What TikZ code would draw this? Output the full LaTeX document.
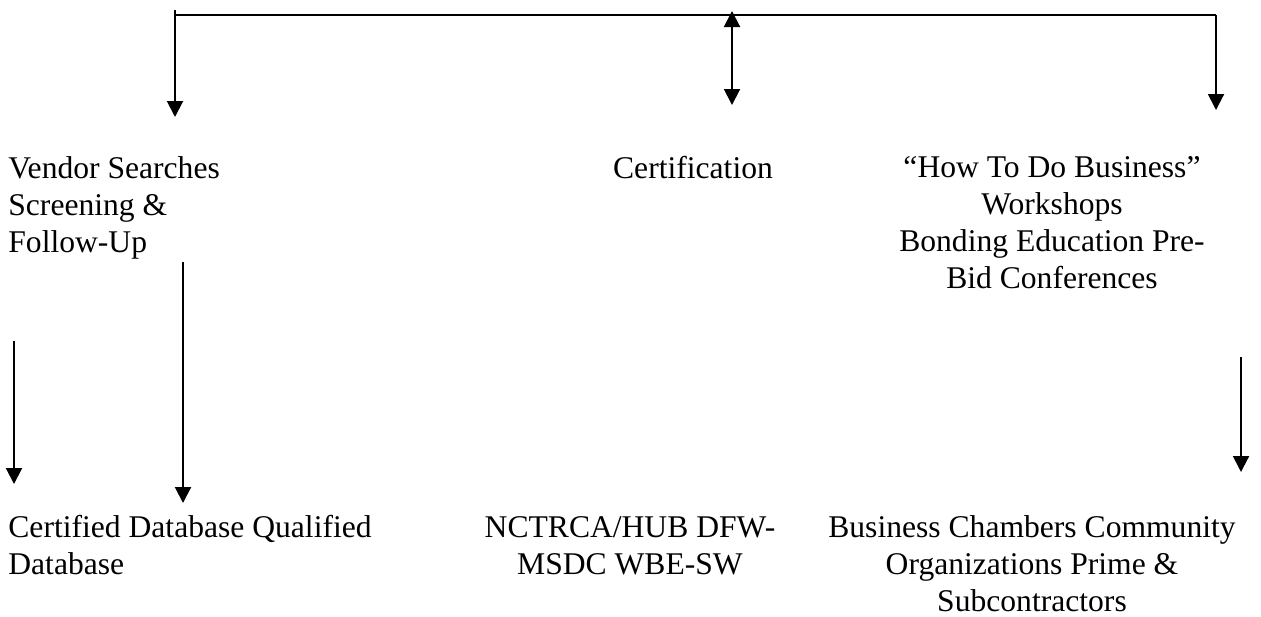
\documentclass[tikz,border=0pt]{standalone}
\usepackage{fontspec}
\setmainfont{Liberation Serif}
\usepackage{tikz}
\usetikzlibrary{arrows.meta}

\begin{document}
\begin{tikzpicture}[x=0.5pt, y=-0.5pt,
        lbl/.style={inner sep=0pt, font=\fontsize{15.8pt}{18.4pt}\selectfont},
        arr/.style={line width=1pt, -{Triangle[width=8pt,length=8pt]}}]
        \useasboundingbox (0,0) rectangle (1261,616);

        % base of a multi-line node is the last line
        \node[lbl, anchor=base west, align=left] (vendor) at (8,252) {Vendor Searches\\Screening \&\\Follow-Up};
        \node[lbl, anchor=base] (cert) at (693,178) {Certification};
        \node[lbl, anchor=base, align=center] (howto) at (1052,288) {“How To Do Business”\\Workshops\\Bonding Education Pre-\\Bid Conferences};

        \node[lbl, anchor=base west, align=left] (certdb) at (8,574) {Certified Database Qualified\\Database};
        \node[lbl, anchor=base, align=center] (nctrca) at (630,574) {NCTRCA/HUB DFW-\\MSDC WBE-SW};
        \node[lbl, anchor=base, align=center] (chambers) at (1032,611) {Business Chambers Community\\Organizations Prime \&\\Subcontractors};

        % top bus
        \coordinate (busL) at (175,10);
        \coordinate (busR) at (1216,15);
        \coordinate (busM) at (732,11);
        \coordinate (tipL) at (175,117);
        \coordinate (tipM) at (732,105);
        \coordinate (tipR) at (1216,110);
        \draw[line width=1pt] (175,15) -- (busR);
        \draw[arr] (busL) -- (tipL);
        \draw[arr] (busR) -- (tipR);
        \draw[arr, {Triangle[width=8pt,length=8pt]}-{Triangle[width=8pt,length=8pt]}] (busM) -- (tipM);

        % lower arrows
        \coordinate (a1) at (14,341);
        \coordinate (b1) at (14,484);
        \coordinate (a2) at (183,262);
        \coordinate (b2) at (183,503);
        \coordinate (a3) at (1241,357);
        \coordinate (b3) at (1241,472);
        \draw[arr] (a1) -- (b1);
        \draw[arr] (a2) -- (b2);
        \draw[arr] (a3) -- (b3);
\end{tikzpicture}
\end{document}
